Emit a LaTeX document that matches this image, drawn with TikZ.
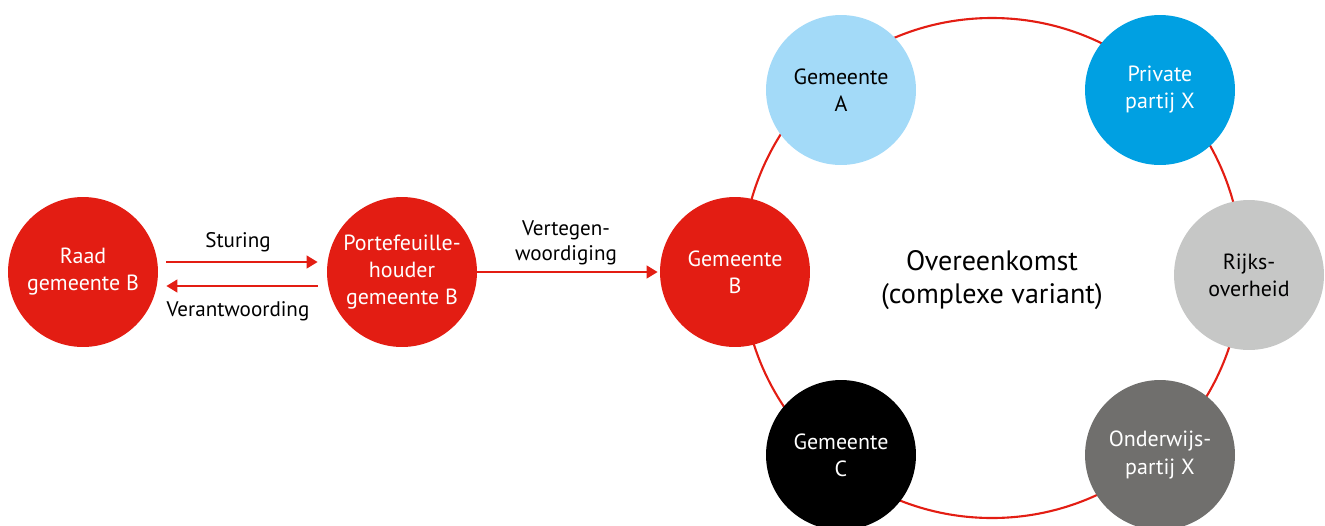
\documentclass[tikz,border=0pt]{standalone}
\usepackage{fontspec}
\setmainfont{PT Sans}
\usetikzlibrary{arrows.meta}
\definecolor{rood}{HTML}{E31D13}
\definecolor{lichtblauw}{HTML}{A3DAF8}
\definecolor{hemelblauw}{HTML}{00A0E2}
\definecolor{lichtgrijs}{HTML}{C6C7C6}
\definecolor{donkergrijs}{HTML}{706F6D}
\tikzset{
  partij/.style={circle, minimum size=3cm, inner sep=0pt, align=center,
    font=\fontsize{12.5}{15.4}\selectfont},
  pijl/.style={draw=rood, line width=1.5pt,
    -{Triangle[length=0.22cm, width=0.25cm]}},
  label/.style={align=center, font=\fontsize{12}{14.2}\selectfont},
}

\begin{document}
\begin{tikzpicture}[x=0.02cm, y=-0.02cm]
		%%%%% START %%%%%
		\useasboundingbox (0, 0) rectangle (1325, 525);
		
		\draw[rood, line width=1.2pt] (992, 268) circle (250);
		
		\node[partij, fill=rood, text=white] (raad) at (83, 272) {Raad\\gemeente B};
		\node[partij, fill=rood, text=white] (porte) at (402, 272) {Portefeuille-\\houder\\gemeente B};
		\node[partij, fill=rood, text=white] (gemB) at (735, 272) {Gemeente\\B};
		
		\node[partij, fill=lichtblauw] (gemA) at (841, 90) {Gemeente\\A};
		\node[partij, fill=hemelblauw, text=white] (privaat) at (1160, 90) {Private\\partij X};
		\node[partij, fill=lichtgrijs] (rijk) at (1249, 275) {Rijks-\\overheid};
		\node[partij, fill=black, text=white] (gemC) at (841, 455) {Gemeente\\C};
		\node[partij, fill=donkergrijs, text=white] (onderwijs) at (1160, 455) {Onderwijs-\\partij X};
		
		\node[align=center, font=\fontsize{16}{18.4}\selectfont] (overeenkomst) at (992, 280) {Overeenkomst\\(complexe variant)};
		
		\draw[pijl, shorten <=0.16cm, shorten >=0.18cm] ([yshift=0.2cm]raad.east) -- ([yshift=0.2cm]porte.west);
		\draw[pijl, shorten <=0.18cm, shorten >=0.16cm] ([yshift=-0.28cm]porte.west) -- ([yshift=-0.28cm]raad.west -| raad.east);
		\draw[pijl, shorten >=0.04cm] (porte.east) -- (gemB.west);
		
		\node[label] (sturing) at (238, 242) {Sturing};
		\node[label] (verantw) at (238, 311) {Verantwoording};
		\node[label] (vertegen) at (566, 243) {Vertegen-\\woordiging};
		
		%%%%% END %%%%%
	\end{tikzpicture}
\end{document}
